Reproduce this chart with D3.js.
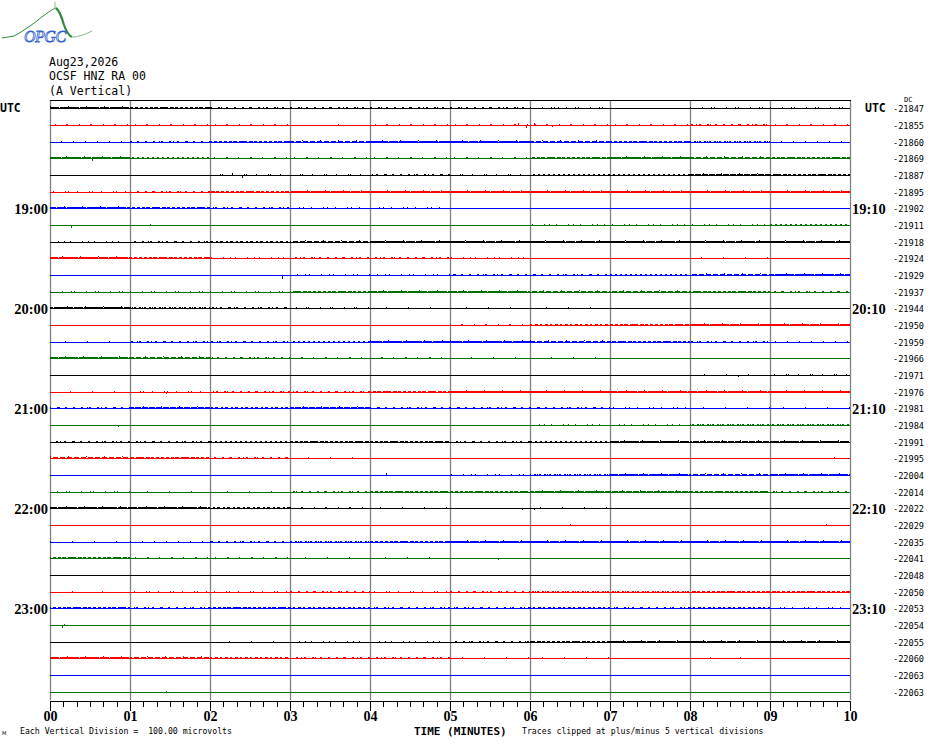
<!DOCTYPE html>
<html><head><meta charset="utf-8">
<script src="https://cdn.jsdelivr.net/npm/d3@7"></script>
<style>body{margin:0;background:#fff}svg{display:block}</style>
</head><body>
<svg id="chart" width="930" height="744"></svg>
<script>
// ---------- data ----------
const dateLabel = "Aug23,2026";
const stationLabel = "OCSF HNZ RA 00";
const componentLabel = "(A Vertical)";
const traceColors = ["#000000", "#ff0000", "#0000ff", "#007000"];
const dcValues = [-21847,-21855,-21860,-21869,-21887,-21895,-21902,-21911,-21918,-21924,-21929,-21937,
  -21944,-21950,-21959,-21966,-21971,-21976,-21981,-21984,-21991,-21995,-22004,-22014,
  -22022,-22029,-22035,-22041,-22048,-22050,-22053,-22054,-22055,-22060,-22063,-22063];
const leftTimeLabels = [[0,"UTC"],[6,"19:00"],[12,"20:00"],[18,"21:00"],[24,"22:00"],[30,"23:00"]];
const rightTimeLabels = [[0,"UTC"],[6,"19:10"],[12,"20:10"],[18,"21:10"],[24,"22:10"],[30,"23:10"]];
const minuteLabels = ["00","01","02","03","04","05","06","07","08","09","10"];
const microvoltsPerDivision = 100;
// noise activity per trace per minute (0 = quiet .. 3 = dense)
const noiseLevels = [
  [3,2,1,1,1,1,0.5,0,0.5,0.5],
  [0.5,0.5,0.5,0,0.5,0.5,0.5,0.5,1,0.5],
  [0.5,1,2,2.5,3,3,2.5,2,1.5,0.5],
  [3,1.5,0.5,0.5,0.5,0.5,2,3,2.5,2],
  [0,0,0.5,0.5,1,0.5,1.5,1.5,2.5,2],
  [0.5,1,2,3,3,3,3,3,3,3],
  [3,2,1,0.5,0.5,0,0,0,0,0],
  [0,0,0,0,0,0,0.5,0.5,0.5,1.5],
  [0.5,1,1.5,2.5,3,3,3,3,3,3],
  [3,2,0.5,1,1,0.5,0,0,0.3,0],
  [0,0,0,0.5,0.5,1,1,1.5,2.5,3],
  [0.5,0.5,0.5,2,3,3,2.5,2.5,2,1],
  [3,1.5,1,0.5,0.3,0.3,0.3,0,0,0],
  [0,0,0,0,0,0.5,1.5,2,3,3],
  [0.3,1,1,1.5,3,3,2.5,2,1,0.5],
  [3,2.5,1,0.5,0.5,0.3,0.3,0,0,0],
  [0,0,0,0,0,0,0,0,0.3,0.5],
  [0.3,0.5,1,1,2,2.5,2.5,3,3,2.5],
  [1,2.5,1.5,2.5,1,1,1,0.5,0.3,0.3],
  [0,0,0,0,0,0,0.5,0.5,1.5,1.5],
  [1,1,1.5,2,2,1,1.5,3,2.5,3],
  [2.5,2,1,0.3,0,0,0,0,0,0],
  [0,0,0,0,0,0.5,1.5,3,2.5,3],
  [0.5,0.3,0.3,1,2,2,3,2.5,2,1],
  [3,3,1.5,0.5,0.3,0,0.3,0,0,0],
  [0,0,0,0,0,0,0,0,0,0],
  [0.3,0.5,1,1.5,2,3,3,3,3,3],
  [2,0.5,0.5,0.3,0.3,0,0,0,0,0],
  [0,0,0,0,0,0,0,0,0,0],
  [0.2,0.5,0.5,1,0.5,1,1.5,1.5,2,2],
  [2,1,2,1.5,1,1,1.5,1,1.5,0.5],
  [0,0,0,0,0,0,0,0,0,0],
  [0,0,0.3,0.5,0.5,1,2,3,3,3],
  [3,2.5,1.5,1,1,0.3,0.3,0,0.2,0],
  [0,0,0,0,0,0,0,0,0,0],
  [0,0,0,0,0,0,0,0,0,0]
];
// isolated spikes: [trace, minute, microvolts]
const spikes = [
  [1,5.85,15],[1,5.95,-12],[1,6.05,14],[1,6.2,12],[1,6.28,-10],[1,3.6,8],
  [3,0.52,-12],[3,0.48,10],[4,2.27,18],[4,2.4,-12],[6,1.49,12],[7,0.26,-12],[7,1.25,10],
  [10,2.9,-18],[12,2.3,8],[17,1.45,-10],[18,1.3,8],[19,0.85,-10],[21,9.8,10],[22,4.2,14],
  [24,5.9,-10],[24,6.05,-8],[25,6.5,10],[25,9.7,10],[27,5.6,-10],[31,0.15,-14],[31,0.18,10],
  [35,1.45,8],[16,8.6,-6],[0,6.35,8],[8,8.3,8]
];

// ---------- drawing ----------
const svg = d3.select("#chart");
const x = d3.scaleLinear().domain([0, 10]).range([50, 850]);
const row = d3.scaleBand().domain(d3.range(dcValues.length)).range([100, 700]);
const amp = d3.scaleLinear().domain([0, microvoltsPerDivision]).range([0, row.bandwidth()]);
const yBase = i => Math.round(row(i) + row.bandwidth() / 2) + 0.5;
const color = i => traceColors[i % traceColors.length];

// logo
const logo = svg.append("g");
logo.append("path")
  .attr("d", "M2,38 L14,36 C20,33 24,30 30,26 C36,22 40,18 46,14 C50,11 53,9 56,8")
  .attr("fill", "none").attr("stroke", "#2e8b3a").attr("stroke-width", 1);
logo.append("path")
  .attr("d", "M56,8 C60,11 62,18 64,25 C66,31 68,35 72,37")
  .attr("fill", "none").attr("stroke", "#2e8b3a").attr("stroke-width", 2.2);
logo.append("path")
  .attr("d", "M72,37 C78,37 84,35 92,31")
  .attr("fill", "none").attr("stroke", "#7fbf7f").attr("stroke-width", 1);
logo.append("line").attr("x1", 55).attr("x2", 55).attr("y1", 2).attr("y2", 9)
  .attr("stroke", "#7fbf7f").attr("stroke-width", 1);
logo.append("text").attr("x", 24).attr("y", 42).text("OPGC")
  .attr("font-family", "Liberation Serif").attr("font-style", "italic")
  .attr("font-size", 16).attr("fill", "#ffffff").attr("stroke", "#3060d0")
  .attr("stroke-width", 0.8).attr("letter-spacing", -0.5);

// header
const header = svg.append("g").attr("font-family", "DejaVu Sans Mono").attr("font-size", 11.5)
  .attr("fill", "#000");
[[dateLabel, 66], [stationLabel, 80], [componentLabel, 95]].forEach(([t, yy]) =>
  header.append("text").attr("x", 49).attr("y", yy).text(t));

// grid
svg.append("g").selectAll("line").data(d3.range(0, 11)).join("line")
  .attr("x1", d => Math.round(x(d)) + 0.5).attr("x2", d => Math.round(x(d)) + 0.5)
  .attr("y1", 100).attr("y2", 700).attr("stroke", "#808080").attr("stroke-width", 1.3);
svg.append("line").attr("x1", 50).attr("x2", 851).attr("y1", 100.5).attr("y2", 100.5)
  .attr("stroke", "#000").attr("stroke-width", 1);

// traces
const traces = svg.append("g").attr("shape-rendering", "crispEdges");
const dashA = {0.2:"1,29",0.3:"1,21",0.5:"1,11",1:"2,6",1.5:"2,3",2:"3,2",2.5:"5,2",3:"9,1"};
const dashB = {0.2:"0,100",0.3:"0,100",0.5:"1,23",1:"1,13",1.5:"1,9",2:"2,7",2.5:"2,5",3:"3,4"};
dcValues.forEach((dc, i) => {
  const y0 = yBase(i);
  const g = traces.append("g").attr("stroke", color(i));
  g.append("line").attr("x1", x(0)).attr("x2", x(10)).attr("y1", y0).attr("y2", y0);
  noiseLevels[i].forEach((lv, m) => {
    if (!lv) return;
    g.append("line").attr("x1", x(m)).attr("x2", x(m + 1)).attr("y1", y0 - 1).attr("y2", y0 - 1)
      .attr("stroke-dasharray", dashA[lv]).attr("stroke-dashoffset", (i * 7) % 13);
    g.append("line").attr("x1", x(m)).attr("x2", x(m + 1)).attr("y1", y0 - 1).attr("y2", y0 - 1)
      .attr("stroke-dasharray", dashB[lv]).attr("stroke-dashoffset", (i * 5) % 11 + 3);
    if (lv >= 2.5) {
      g.append("line").attr("x1", x(m)).attr("x2", x(m + 1)).attr("y1", y0 - 2).attr("y2", y0 - 2)
        .attr("stroke-dasharray", "1,17").attr("stroke-dashoffset", (i * 3) % 7);
    }
  });
});
traces.selectAll("line.spike").data(spikes).join("line").attr("class", "spike")
  .attr("x1", d => Math.round(x(d[1])) + 0.5).attr("x2", d => Math.round(x(d[1])) + 0.5)
  .attr("y1", d => yBase(d[0])).attr("y2", d => yBase(d[0]) - amp(d[2]))
  .attr("stroke", d => color(d[0])).attr("stroke-width", 1);

// time labels
const timeFont = "Liberation Serif";
function timeLabel(list, xx, anchor, xUtc) {
  list.forEach(([r, t]) => {
    const utc = t === "UTC";
    svg.append("text")
      .attr("x", utc ? xUtc : xx).attr("y", yBase(r) + (utc ? 3 : 5))
      .attr("text-anchor", utc ? "start" : anchor)
      .attr("font-family", utc ? "DejaVu Sans Mono" : timeFont)
      .attr("font-weight", "bold").attr("font-size", utc ? 11.5 : 14.5)
      .attr("fill", "#000").text(t);
  });
}
timeLabel(leftTimeLabels, 48, "end", 0);
timeLabel(rightTimeLabels, 852, "start", 865);

// DC values
svg.append("g").selectAll("text").data(dcValues).join("text")
  .attr("x", 893).attr("y", (d, i) => yBase(i) + 3)
  .attr("font-family", "DejaVu Sans Mono").attr("font-size", 8.6).attr("fill", "#000")
  .text(d => String(d));
svg.append("text").attr("x", 904).attr("y", 101.5).attr("font-family", "DejaVu Sans Mono")
  .attr("font-size", 7).text("DC");

// bottom axis
const minor = d3.axisBottom(x).tickValues(d3.range(0, 61).map(d => d / 6)).tickSize(6)
  .tickFormat("").tickSizeOuter(0);
const major = d3.axisBottom(x).tickValues(d3.range(0, 11)).tickSize(10).tickPadding(1)
  .tickFormat(d => minuteLabels[d]).tickSizeOuter(0);
const gMinor = svg.append("g").attr("transform", "translate(0,700.5)").call(minor);
const gMajor = svg.append("g").attr("transform", "translate(0,700.5)").call(major);
[gMinor, gMajor].forEach(g => {
  g.selectAll("path,line").attr("stroke", "#000").attr("stroke-width", 1)
    .attr("shape-rendering", "crispEdges");
});
gMajor.selectAll("text").attr("font-family", timeFont).attr("font-weight", "bold")
  .attr("font-size", 14).attr("fill", "#000");

svg.append("text").attr("x", 414).attr("y", 735).attr("font-family", "DejaVu Sans Mono")
  .attr("font-weight", "bold").attr("font-size", 11).text("TIME (MINUTES)");
svg.append("text").attr("x", 522).attr("y", 734).attr("font-family", "DejaVu Sans Mono")
  .attr("font-size", 8.2).text("Traces clipped at plus/minus 5 vertical divisions");
svg.append("text").attr("x", 20).attr("y", 734).attr("font-family", "DejaVu Sans Mono")
  .attr("font-size", 8.2).attr("xml:space", "preserve")
  .text("Each Vertical Division =  " + microvoltsPerDivision.toFixed(2) + " microvolts");
svg.append("text").attr("x", 2).attr("y", 735).attr("font-family", "DejaVu Sans")
  .attr("font-size", 5).text("M");
</script>
</body></html>
